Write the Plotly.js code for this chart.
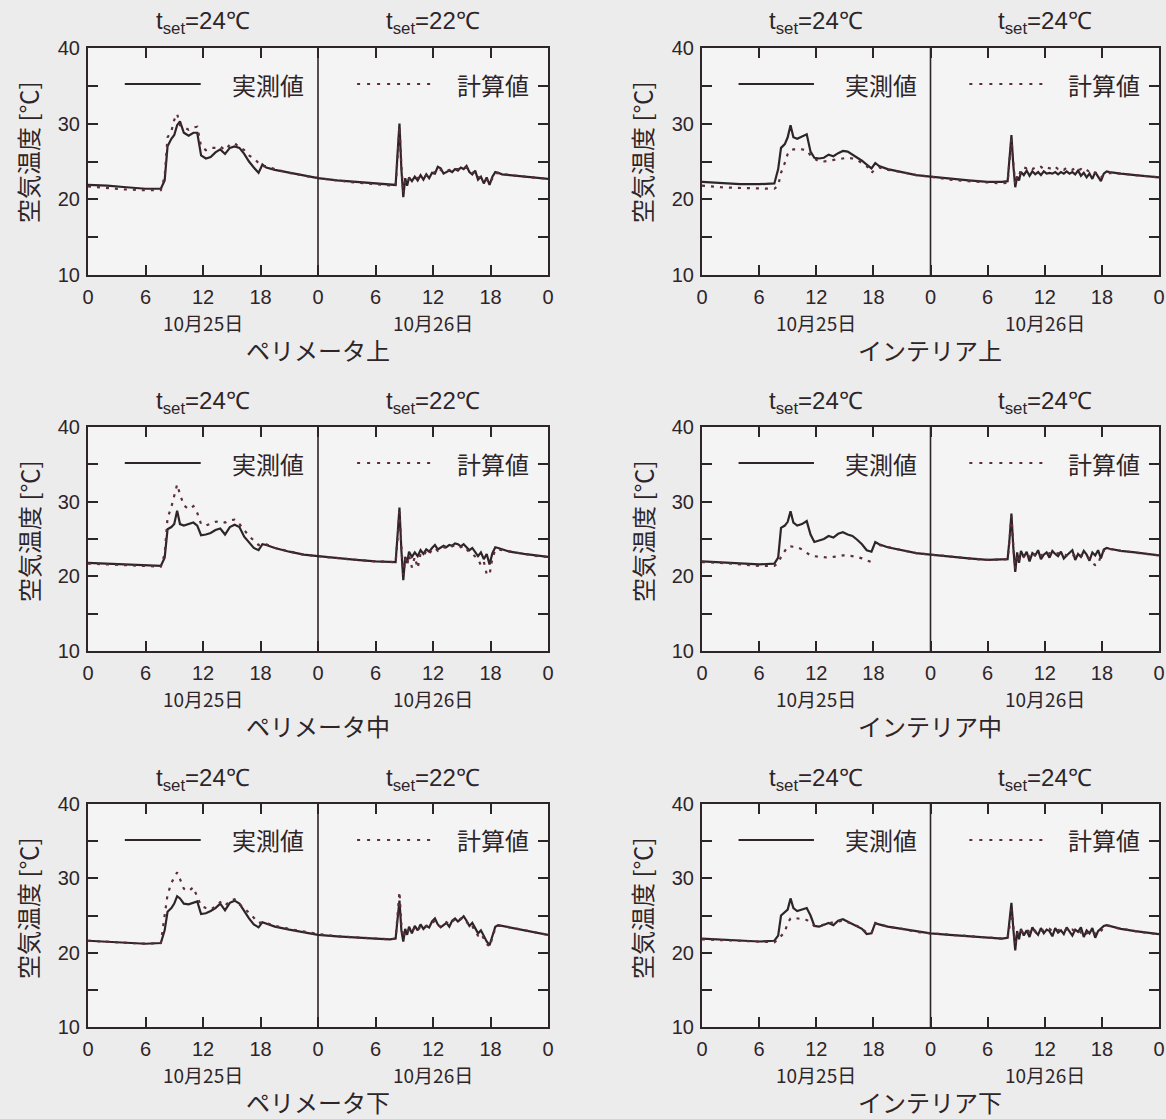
<!DOCTYPE html>
<html>
<head>
<meta charset="utf-8">
<script src="https://cdn.plot.ly/plotly-3.0.1.min.js"></script>
<style>
html,body{margin:0;padding:0;background:#ececec;}
#chart{width:1166px;height:1119px;}
</style>
</head>
<body>
<div id="chart"></div>
<script>
// ---------------- DATA ----------------
const HOURS = [
  0,2,4,6,7.6,8,8.3,8.7,9,9.3,9.6,10,10.5,11,11.4,11.8,12.3,12.8,13.3,13.8,14.3,14.8,15.3,15.8,16.3,16.8,17.3,17.8,18.2,18.6,19.5,21,22.5,24,
  26,28,30,31.5,32.1,32.3,32.5,32.7,32.9,33.1,33.3,33.5,33.8,34.1,34.4,34.7,35,35.3,35.6,35.9,36.2,36.5,36.8,37.1,37.4,37.7,38,38.3,38.6,38.9,39.2,39.5,39.8,40.1,40.4,40.7,41,41.3,41.6,41.9,42.2,42.5,42.8,43.2,44,45.5,47,48
];

// ペリメータ上
const PERI_UP_MEAS = [
  21.9,21.8,21.6,21.4,21.4,22.5,27.0,28.0,28.5,29.8,30.3,28.8,28.4,28.8,28.8,25.8,25.4,25.6,26.2,26.6,26.0,26.8,27.0,26.8,26.0,25.0,24.2,23.5,24.6,24.2,23.9,23.5,23.1,22.8,
  22.5,22.3,22.1,21.9,21.9,26.0,30.0,24.0,20.3,22.8,21.8,22.9,22.4,23.0,22.5,23.2,22.6,23.3,22.8,23.5,23.4,24.3,24.1,23.4,23.6,23.8,23.6,24.0,23.8,24.2,24.0,24.4,23.6,23.3,23.8,22.6,23.0,22.1,22.9,21.9,23.0,23.6,23.5,23.3,23.2,23.0,22.8,22.7
];
const PERI_UP_CALC = [
  21.7,21.5,21.3,21.2,21.2,23.0,28.2,29.0,30.5,31.3,29.8,29.5,29.2,29.5,29.6,27.0,26.5,26.8,26.8,27.0,26.5,27.2,27.4,26.9,26.5,25.8,25.4,24.8,24.4,24.4,24.0,23.5,23.1,22.8,
  22.5,22.2,22.0,21.8,21.8,25.5,29.6,24.5,20.8,22.5,22.2,22.7,22.8,22.9,22.8,23.0,23.0,23.1,23.2,23.4,23.6,24.1,23.9,23.6,23.7,23.9,23.8,24.0,24.0,24.1,24.1,24.2,23.8,23.5,23.6,23.0,22.8,22.5,22.6,22.1,22.8,23.4,23.5,23.4,23.2,23.0,22.8,22.7
];
// インテリア上
const INT_UP_MEAS = [
  22.3,22.2,22.0,22.0,22.1,24.0,26.8,27.3,28.2,29.8,28.2,28.0,28.3,28.6,26.3,25.5,25.4,25.5,25.9,25.7,26.1,26.4,26.3,25.9,25.6,25.1,24.6,24.1,24.8,24.4,24.0,23.6,23.2,23.0,
  22.7,22.5,22.3,22.3,22.4,25.5,28.5,24.5,21.6,23.0,22.5,23.6,23.2,23.8,23.1,23.7,23.3,23.6,23.2,23.7,23.4,23.5,23.4,23.6,23.3,23.6,23.4,23.7,23.4,23.6,23.3,23.8,23.1,23.5,22.9,23.4,22.7,23.6,23.0,22.4,23.4,23.7,23.6,23.5,23.4,23.2,23.0,22.9
];
const INT_UP_CALC = [
  21.8,21.6,21.5,21.4,21.4,21.8,23.5,24.8,26.0,26.5,26.6,26.6,26.6,26.5,25.8,25.4,25.0,25.0,25.1,25.2,25.3,25.4,25.5,25.4,25.2,24.8,24.4,23.5,24.0,24.2,23.9,23.6,23.2,23.0,
  22.6,22.4,22.2,22.1,22.2,25.2,28.0,24.8,22.0,23.2,23.0,24.0,24.2,24.1,24.3,24.0,24.2,24.1,24.3,24.0,24.2,24.1,24.0,24.3,24.0,24.1,23.9,24.2,24.0,23.9,24.1,23.8,24.0,23.7,23.9,23.6,23.8,23.5,23.4,22.9,23.2,23.3,23.5,23.4,23.4,23.2,23.0,22.9
];
// ペリメータ中
const PERI_MID_MEAS = [
  21.8,21.7,21.5,21.4,21.4,22.5,26.3,26.6,27.0,28.8,27.0,26.8,27.0,27.2,26.8,25.5,25.6,25.8,26.2,26.4,25.6,26.6,26.9,26.6,25.3,24.6,23.8,23.5,24.3,24.2,23.8,23.3,22.9,22.7,
  22.4,22.2,22.0,21.9,21.9,25.5,29.2,23.5,19.5,22.6,21.8,23.3,22.6,23.2,22.7,23.5,23.0,23.6,23.3,23.8,24.2,23.6,23.8,24.1,23.9,24.2,24.1,24.4,24.3,24.0,24.3,23.9,23.5,23.8,23.2,22.7,23.2,22.3,23.0,21.6,23.1,23.9,23.8,23.6,23.3,23.0,22.7,22.6
];
const PERI_MID_CALC = [
  21.7,21.6,21.4,21.3,21.3,23.0,27.8,29.3,30.8,32.3,31.0,29.5,29.0,29.4,28.5,27.0,26.8,27.1,27.3,27.4,27.2,27.5,27.6,27.0,26.2,25.4,24.8,24.2,24.3,24.3,23.8,23.3,22.9,22.7,
  22.4,22.2,22.0,21.9,21.9,25.0,28.6,24.0,20.2,22.4,21.5,22.8,21.2,22.6,21.1,23.0,22.7,23.4,23.0,23.6,23.8,23.4,23.7,23.9,23.8,24.0,24.0,24.2,24.1,23.9,24.1,23.7,23.2,23.0,22.6,22.3,21.5,22.0,20.3,20.2,22.5,23.5,23.6,23.5,23.3,23.0,22.7,22.6
];
// インテリア中
const INT_MID_MEAS = [
  22.0,21.9,21.8,21.6,21.7,22.5,26.5,26.8,27.3,28.7,27.2,26.8,27.0,27.4,25.6,24.6,24.8,25.0,25.4,25.2,25.7,25.9,25.6,25.4,24.9,24.3,23.5,23.3,24.6,24.3,23.9,23.5,23.1,22.9,
  22.6,22.4,22.2,22.2,22.3,25.0,28.4,23.8,20.6,23.2,21.8,23.4,22.6,23.3,22.0,23.1,22.8,23.5,22.3,22.9,23.2,22.5,23.4,23.0,22.7,23.3,22.4,22.8,23.1,23.5,22.2,23.0,22.6,23.4,22.9,22.1,23.2,22.8,23.5,22.4,23.6,23.8,23.7,23.6,23.4,23.2,23.0,22.8
];
const INT_MID_CALC = [
  21.9,21.8,21.6,21.4,21.4,21.8,22.6,23.4,24.0,24.0,24.0,23.9,23.6,23.2,22.8,22.7,22.6,22.6,22.5,22.6,22.7,22.8,22.8,22.7,22.6,22.4,22.1,21.9,null,24.2,23.9,23.5,23.1,22.9,
  22.6,22.4,22.2,22.2,22.3,24.8,28.0,24.0,21.0,22.8,22.2,23.0,22.6,23.1,22.6,23.2,22.7,23.0,22.8,23.0,22.9,23.1,22.9,23.0,23.1,22.9,23.0,22.8,23.0,22.7,22.9,22.6,22.8,22.5,22.7,22.3,21.8,21.5,21.6,22.8,23.4,23.7,23.7,23.6,23.4,23.2,23.0,22.8
];
// ペリメータ下
const PERI_LOW_MEAS = [
  21.6,21.5,21.3,21.2,21.3,23.0,25.5,26.0,26.6,27.6,27.3,26.6,26.5,26.7,26.9,25.2,25.3,25.6,26.0,26.6,25.7,26.7,27.0,26.6,25.6,24.6,23.8,23.4,24.1,23.9,23.5,23.1,22.7,22.4,
  22.2,22.0,21.9,21.8,21.9,24.5,27.0,23.0,21.5,23.2,22.4,23.5,22.6,23.6,23.0,23.8,23.2,23.6,23.4,24.2,24.6,23.8,23.4,23.7,24.0,23.5,24.3,24.6,24.2,24.5,24.9,24.3,23.6,24.0,23.2,22.6,23.0,22.2,21.5,21.0,22.4,23.5,23.7,23.6,23.4,23.0,22.6,22.4
];
const PERI_LOW_CALC = [
  21.6,21.5,21.3,21.2,21.3,24.8,27.8,29.4,30.2,30.8,29.9,28.6,28.3,28.8,27.5,26.3,26.0,25.8,26.2,26.8,26.3,27.0,27.2,26.5,26.0,25.4,24.7,24.0,24.1,24.0,23.6,23.2,22.8,22.5,
  22.2,22.0,21.9,21.8,21.9,25.0,28.2,23.8,22.0,22.8,22.5,23.2,22.8,23.4,23.0,23.5,23.3,23.6,23.6,24.0,24.3,23.7,23.5,23.8,24.1,23.8,24.2,24.5,24.3,24.6,24.7,24.2,23.5,23.6,22.8,22.3,22.6,21.8,21.2,20.8,22.0,23.3,23.6,23.6,23.4,23.0,22.6,22.4
];
// インテリア下
const INT_LOW_MEAS = [
  21.9,21.8,21.6,21.5,21.6,22.3,25.0,25.4,25.8,27.3,26.0,25.6,25.8,26.0,25.0,23.6,23.5,23.8,24.0,23.7,24.3,24.5,24.2,23.8,23.6,23.2,22.5,22.6,24.0,23.8,23.5,23.2,22.8,22.6,
  22.4,22.2,22.0,21.9,22.0,24.0,26.7,23.2,20.3,22.9,21.8,23.2,22.3,23.0,22.1,23.4,22.8,22.4,23.3,22.6,23.1,22.9,22.2,23.3,22.7,23.0,22.5,23.4,22.9,22.3,23.1,22.8,23.4,22.1,23.0,22.6,23.3,22.0,22.9,23.2,23.6,23.7,23.6,23.4,23.2,22.9,22.6,22.5
];
const INT_LOW_CALC = [
  21.8,21.7,21.5,21.4,21.4,21.8,22.2,22.8,24.0,24.6,24.7,24.6,24.5,24.4,24.0,23.6,23.6,23.8,24.0,24.1,24.2,24.3,24.1,23.9,23.6,23.2,22.7,22.6,23.9,23.8,23.5,23.2,22.8,22.6,
  22.4,22.2,22.0,21.9,22.0,23.5,25.8,23.4,21.2,22.6,22.3,22.9,22.6,23.1,22.8,23.2,22.9,23.2,22.9,23.1,23.0,23.2,22.9,23.1,23.0,23.2,22.9,23.1,22.8,23.1,22.8,23.1,22.7,22.9,22.6,22.8,22.4,22.6,22.5,22.9,23.4,23.6,23.6,23.4,23.2,22.9,22.6,22.5
];

const MEASURED = [PERI_UP_MEAS, INT_UP_MEAS, PERI_MID_MEAS, INT_MID_MEAS, PERI_LOW_MEAS, INT_LOW_MEAS];
const CALCULATED = [PERI_UP_CALC, INT_UP_CALC, PERI_MID_CALC, INT_MID_CALC, PERI_LOW_CALC, INT_LOW_CALC];
const PANEL_NAMES = ['ペリメータ上','インテリア上','ペリメータ中','インテリア中','ペリメータ下','インテリア下'];
const SETPOINTS = [['24','22'],['24','24'],['24','22'],['24','24'],['24','22'],['24','24']];
const DATE_LABELS = ['10月25日','10月26日'];
const LEGEND_NAMES = ['実測値','計算値'];
const Y_TITLE = '空気温度 [℃]';
const X_TICK_VALS = [0,6,12,18,24,30,36,42,48];
const X_TICK_TEXT = ['0','6','12','18','0','6','12','18','0'];

// ---------------- LAYOUT ----------------
const W = 1166, H = 1119;
const COL_X = [[88,548],[702,1159]];
const ROW_Y = [[48,275],[427,651],[804,1027]];
const INK = '#2e2529';
const DOT = '#5e2c3c';
const LATIN = '"Liberation Sans", Arial, sans-serif';
const CJK = '"Noto Sans CJK JP", "Noto Sans", sans-serif';
const px = x => x / W;
const py = y => 1 - y / H;

const traces = [];
const layout = {
  width: W, height: H,
  margin: {l:0, r:0, t:0, b:0},
  paper_bgcolor: '#ececec',
  plot_bgcolor: '#f4f4f4',
  showlegend: false,
  annotations: [],
  shapes: []
};

for (let i = 0; i < 6; i++) {
  const col = i % 2, row = Math.floor(i / 2);
  const [x0, x1] = COL_X[col];
  const [y0, y1] = ROW_Y[row];
  const n = i + 1;
  const xa = 'xaxis' + n, ya = 'yaxis' + n;
  const xr = 'x' + n, yr = 'y' + n;
  layout[xa] = {
    domain: [px(x0), px(x1)], anchor: yr, range: [0, 48],
    tickmode: 'array', tickvals: X_TICK_VALS, ticktext: X_TICK_TEXT,
    ticks: 'inside', ticklen: 10, tickwidth: 2, tickcolor: INK,
    showline: true, linecolor: INK, linewidth: 2, mirror: 'ticks',
    showgrid: false, zeroline: false,
    tickfont: {family: LATIN, size: 20, color: INK}, ticklabelstandoff: 3
  };
  layout[ya] = {
    domain: [py(y1), py(y0)], anchor: xr, range: [10, 40],
    tickmode: 'linear', tick0: 10, dtick: 10,
    ticks: 'inside', ticklen: 10, tickwidth: 2, tickcolor: INK,
    minor: {tick0: 10, dtick: 5, ticks: 'inside', ticklen: 10, tickwidth: 2, tickcolor: INK, showgrid: false},
    showline: true, linecolor: INK, linewidth: 2, mirror: 'ticks',
    showgrid: false, zeroline: false,
    tickfont: {family: LATIN, size: 20, color: INK}, ticklabelstandoff: 2
  };
  // day divider
  layout.shapes.push({type:'line', xref: xr, yref: yr, x0: 24, x1: 24, y0: 10, y1: 40,
    line: {color: INK, width: 1.6}});

  traces.push({x: HOURS, y: MEASURED[i], xaxis: xr, yaxis: yr, mode: 'lines',
    line: {color: INK, width: 2.2}, name: LEGEND_NAMES[0], connectgaps: false});
  traces.push({x: HOURS, y: CALCULATED[i], xaxis: xr, yaxis: yr, mode: 'lines',
    line: {color: DOT, width: 2.2, dash: '3px,6px'}, name: LEGEND_NAMES[1], connectgaps: false});

  const wpx = x1 - x0;
  const ly = y0 + 36;
  // legend samples
  layout.shapes.push({type:'line', xref:'paper', yref:'paper',
    x0: px(x0 + 0.08*wpx), x1: px(x0 + 0.245*wpx), y0: py(ly), y1: py(ly),
    line: {color: INK, width: 2}});
  layout.shapes.push({type:'line', xref:'paper', yref:'paper',
    x0: px(x0 + 0.585*wpx), x1: px(x0 + 0.745*wpx), y0: py(ly), y1: py(ly),
    line: {color: DOT, width: 2.2, dash: '3px,7px'}});
  layout.annotations.push({xref:'paper', yref:'paper', x: px(x0 + 0.392*wpx), y: py(ly),
    text: LEGEND_NAMES[0], showarrow:false, xanchor:'center', yanchor:'middle',
    font:{family: CJK, size: 24, color: INK}});
  layout.annotations.push({xref:'paper', yref:'paper', x: px(x0 + 0.88*wpx), y: py(ly),
    text: LEGEND_NAMES[1], showarrow:false, xanchor:'center', yanchor:'middle',
    font:{family: CJK, size: 24, color: INK}});

  // setpoint titles and date labels
  for (let d = 0; d < 2; d++) {
    const cx = x0 + (0.25 + 0.5*d) * wpx;
    layout.annotations.push({xref:'paper', yref:'paper', x: px(cx), y: py(y0 - 25),
      text: 't<sub>set</sub>=' + SETPOINTS[i][d] + '℃', showarrow:false,
      xanchor:'center', yanchor:'middle', font:{family: LATIN, size: 24, color: INK}});
    layout.annotations.push({xref:'paper', yref:'paper', x: px(cx), y: py(y1 + 47),
      text: DATE_LABELS[d], showarrow:false,
      xanchor:'center', yanchor:'middle', font:{family: CJK, size: 19, color: INK}});
  }
  // panel name
  layout.annotations.push({xref:'paper', yref:'paper', x: px((x0 + x1)/2), y: py(y1 + 74),
    text: PANEL_NAMES[i], showarrow:false, xanchor:'center', yanchor:'middle',
    font:{family: CJK, size: 24, color: INK}});
  // y title
  layout.annotations.push({xref:'paper', yref:'paper', x: px(x0 - 60), y: py(y0 + 104),
    text: Y_TITLE, textangle: -90, showarrow:false, xanchor:'center', yanchor:'middle',
    font:{family: CJK, size: 24, color: INK}});
}

Plotly.newPlot('chart', traces, layout, {staticPlot: true, displayModeBar: false});
</script>
</body>
</html>
